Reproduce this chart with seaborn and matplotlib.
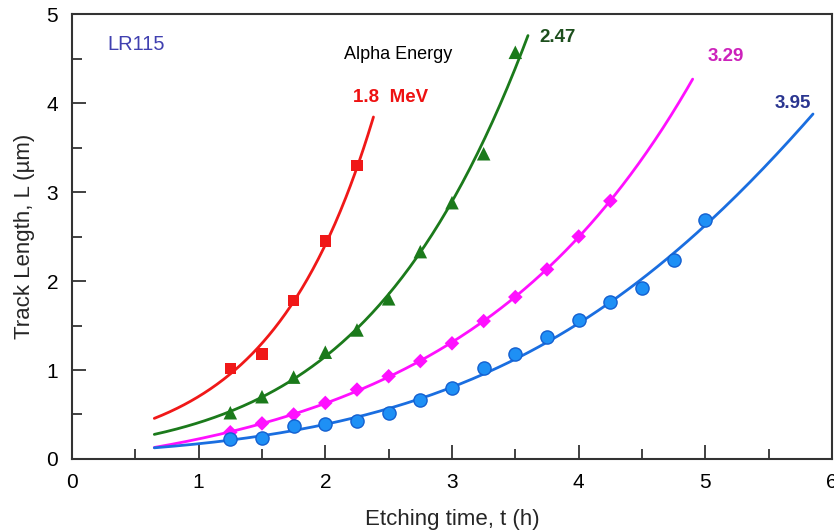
import numpy as np
import pandas as pd
import seaborn as sns
import matplotlib
matplotlib.use('Agg')
import matplotlib.pyplot as plt
from matplotlib.ticker import MultipleLocator

# measured points (etching time in h, track length in um)
t_18 = [1.25, 1.5, 1.75, 2.0, 2.25]
L_18 = [1.02, 1.18, 1.78, 2.45, 3.30]

t_247 = [1.25, 1.5, 1.75, 2.0, 2.25, 2.5, 2.75, 3.0, 3.25, 3.5]
L_247 = [0.52, 0.70, 0.92, 1.20, 1.45, 1.80, 2.33, 2.88, 3.43, 4.57]

t_329 = [1.25, 1.5, 1.75, 2.0, 2.25, 2.5, 2.75, 3.0, 3.25, 3.5, 3.75, 4.0, 4.25]
L_329 = [0.30, 0.40, 0.50, 0.63, 0.78, 0.93, 1.10, 1.30, 1.55, 1.82, 2.13, 2.50, 2.90]

t_395 = [1.25, 1.5, 1.75, 2.0, 2.25, 2.5, 2.75, 3.0, 3.25, 3.5, 3.75, 4.0,
         4.25, 4.5, 4.75, 5.0]
L_395 = [0.22, 0.24, 0.37, 0.39, 0.43, 0.52, 0.66, 0.80, 1.02, 1.18, 1.37, 1.56,
         1.76, 1.92, 2.24, 2.68]

energies = ['1.8', '2.47', '3.29', '3.95']
fit_start = [0.65, 0.65, 0.65, 0.65]
fit_end = [2.38, 3.60, 4.90, 5.85]
fit_kind = ['exp', 'logquad', 'offset', 'logquad']

series = [(t_18, L_18), (t_247, L_247), (t_329, L_329), (t_395, L_395)]
colors = ['#f01818', '#1b7a1b', '#ff10ff', '#1a6ee0']
face_colors = ['#f01818', '#1b7a1b', '#ff10ff', '#1e90f5']
edge_colors = ['none', 'none', 'none', '#1460d0']
markers = ['s', '^', 'D', 'o']
msizes = [65, 95, 55, 90]
label_colors = ['#ee1111', '#1d4f1d', '#cc22bb', '#2a3590']
label_text = ['1.8  MeV', '2.47', '3.29', '3.95']
label_pos = [(2.22, 4.06), (3.69, 4.74), (5.02, 4.52), (5.55, 3.99)]


def fit_curve(t, L, tt, kind):
    t = np.asarray(t)
    L = np.asarray(L)
    if kind == 'exp':
        c = np.polyfit(t, np.log(L), 1)
        return np.exp(np.polyval(c, tt))
    if kind == 'logquad':
        c = np.polyfit(t, np.log(L), 2)
        return np.exp(np.polyval(c, tt))
    # L = b*exp(c*t) - a, offset a chosen by a small grid search
    best = None
    for a in np.linspace(-0.1, 1.5, 161):
        c = np.polyfit(t, np.log(L + a), 1)
        err = np.sum((np.exp(np.polyval(c, t)) - a - L) ** 2)
        if best is None or err < best[0]:
            best = (err, a, c)
    return np.exp(np.polyval(best[2], tt)) - best[1]


sns.set_style('ticks')
plt.rcParams['font.family'] = ['Liberation Sans', 'DejaVu Sans']

fig = plt.figure(figsize=(8.34, 5.31), dpi=100)
ax = fig.add_axes([0.0863, 0.1356, 0.9113, 0.838])

for i, (t, L) in enumerate(series):
    tt = np.linspace(fit_start[i], fit_end[i], 200)
    fit = pd.DataFrame({'t': tt, 'L': fit_curve(t, L, tt, fit_kind[i])})
    sns.lineplot(data=fit, x='t', y='L', color=colors[i], linewidth=2.0, ax=ax)
    pts = pd.DataFrame({'t': t, 'L': L})
    sns.scatterplot(data=pts, x='t', y='L', color=face_colors[i], marker=markers[i],
                    s=msizes[i], edgecolor=edge_colors[i], linewidth=1.0,
                    ax=ax, zorder=3)
    ax.text(label_pos[i][0], label_pos[i][1], label_text[i], color=label_colors[i],
            fontsize=13.5, fontweight='bold', va='center', ha='left')

ax.text(0.28, 4.66, 'LR115', color='#4040b0', fontsize=14.5, va='center', ha='left')
ax.text(2.15, 4.54, 'Alpha Energy', color='black', fontsize=13, va='center', ha='left')

ax.set_xlim(0, 6)
ax.set_ylim(0, 5)
ax.xaxis.set_major_locator(MultipleLocator(1))
ax.xaxis.set_minor_locator(MultipleLocator(0.5))
ax.yaxis.set_major_locator(MultipleLocator(1))
ax.yaxis.set_minor_locator(MultipleLocator(0.5))
ax.tick_params(which='both', direction='in', top=False, right=False,
               colors='#333333', labelcolor='black', labelsize=15, width=1.3)
ax.tick_params(which='major', length=10, pad=10)
ax.tick_params(which='minor', length=7)
for sp in ax.spines.values():
    sp.set_visible(True)
    sp.set_linewidth(1.5)
    sp.set_color('#333333')

ax.set_xlabel('Etching time, t (h)', fontsize=16, labelpad=12)
ax.set_ylabel('Track Length, L (µm)', fontsize=16, labelpad=8)

plt.savefig('out.png', dpi=100)
plt.close()
